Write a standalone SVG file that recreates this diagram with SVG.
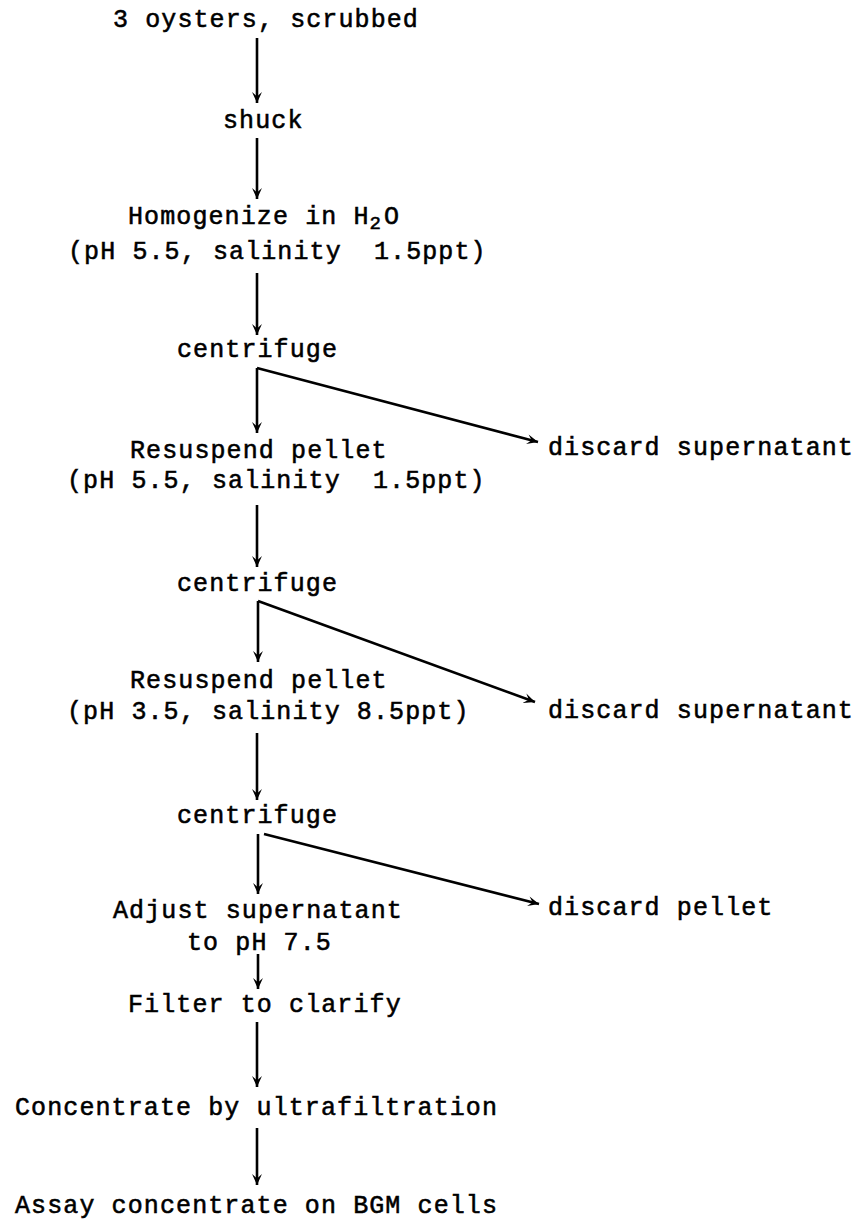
<svg xmlns="http://www.w3.org/2000/svg" width="866" height="1219" viewBox="0 0 866 1219">
<style>
text{font-family:"Liberation Mono","DejaVu Sans Mono",monospace;font-size:25px;letter-spacing:1.1px;fill:#000;stroke:#000;stroke-width:0.55;white-space:pre}
.sub{font-size:19px}
.c line{stroke:#000;stroke-width:2.6;fill:none}
</style>
<defs>
<marker id="ah" viewBox="0 0 10 10" refX="10" refY="5" markerWidth="12" markerHeight="11" markerUnits="userSpaceOnUse" orient="auto">
<path d="M0,0.5 L10,5 L0,9.5 L4,5 Z" fill="#000"/>
</marker>
</defs>
<rect width="866" height="1219" fill="#fff"/>
<g id="connectors" class="c">
<line x1="257" y1="38" x2="257" y2="103" marker-end="url(#ah)"/>
<line x1="257" y1="138" x2="257" y2="199" marker-end="url(#ah)"/>
<line x1="257" y1="273" x2="257" y2="335" marker-end="url(#ah)"/>
<line x1="257" y1="368" x2="257" y2="433" marker-end="url(#ah)"/>
<line x1="257" y1="368" x2="538" y2="442" marker-end="url(#ah)"/>
<line x1="257" y1="505" x2="257" y2="567" marker-end="url(#ah)"/>
<line x1="258" y1="601" x2="258" y2="662" marker-end="url(#ah)"/>
<line x1="258" y1="601" x2="535" y2="702" marker-end="url(#ah)"/>
<line x1="257" y1="733" x2="257" y2="800" marker-end="url(#ah)"/>
<line x1="258" y1="834" x2="258" y2="894" marker-end="url(#ah)"/>
<line x1="264" y1="834" x2="539" y2="904" marker-end="url(#ah)"/>
<line x1="258" y1="954" x2="258" y2="989" marker-end="url(#ah)"/>
<line x1="257" y1="1022" x2="257" y2="1087" marker-end="url(#ah)"/>
<line x1="257" y1="1128" x2="257" y2="1185" marker-end="url(#ah)"/>
</g>
<g id="n1"><text x="113" y="27">3 oysters, scrubbed</text></g>
<g id="n2"><text x="223" y="128">shuck</text></g>
<g id="n3"><text x="128" y="224">Homogenize in H<tspan class="sub" dy="5">2</tspan><tspan dy="-5" dx="2">O</tspan></text><text x="68" y="259">(pH 5.5, salinity  1.5ppt)</text></g>
<g id="n4"><text x="177" y="357">centrifuge</text></g>
<g id="n5"><text x="130" y="458">Resuspend pellet</text><text x="67" y="488">(pH 5.5, salinity  1.5ppt)</text></g>
<g id="n6"><text x="548" y="455">discard supernatant</text></g>
<g id="n7"><text x="177" y="591">centrifuge</text></g>
<g id="n8"><text x="130" y="688">Resuspend pellet</text><text x="67" y="719">(pH 3.5, salinity 8.5ppt)</text></g>
<g id="n9"><text x="548" y="718">discard supernatant</text></g>
<g id="n10"><text x="177" y="823">centrifuge</text></g>
<g id="n11"><text x="113" y="918">Adjust supernatant</text><text x="187" y="950">to pH 7.5</text></g>
<g id="n12"><text x="548" y="915">discard pellet</text></g>
<g id="n13"><text x="128" y="1012">Filter to clarify</text></g>
<g id="n14"><text x="15" y="1115">Concentrate by ultrafiltration</text></g>
<g id="n15"><text x="15" y="1213">Assay concentrate on BGM cells</text></g>
</svg>
